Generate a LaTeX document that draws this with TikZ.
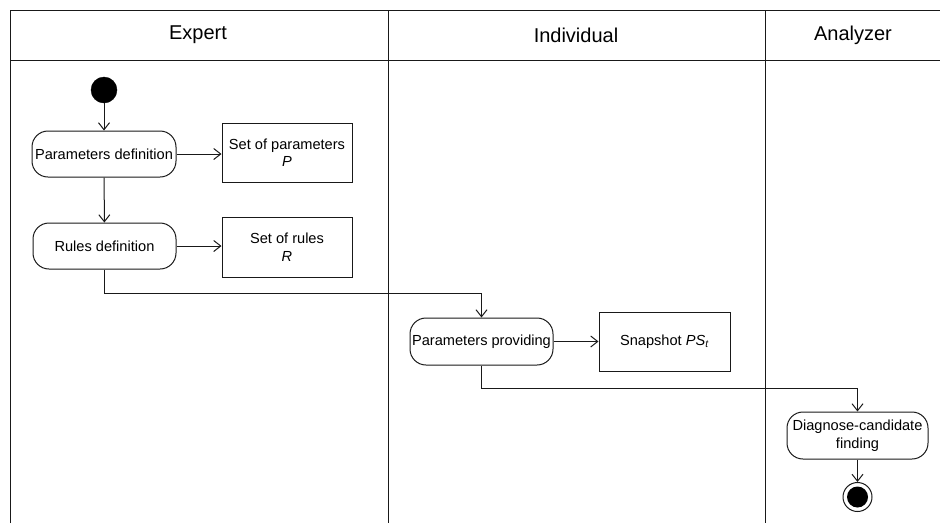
\documentclass[tikz,border=0pt]{standalone}
\usepackage{fontspec}
\setmainfont{Liberation Sans}
\usetikzlibrary{arrows.meta}

\tikzset{
  lane/.style={draw=black!90, line width=1pt},
  lanetitle/.style={font=\fontsize{20}{24}\selectfont},
  action/.style={draw=black!90, line width=1pt, rounded corners=16pt,
    inner sep=0pt, align=center, font=\fontsize{14.6}{17.5}\selectfont},
  artifact/.style={draw=black!90, line width=1pt, inner sep=0pt,
    align=center, font=\fontsize{14.6}{17.5}\selectfont},
  flow/.style={draw=black!90, line width=1pt,
    -{Straight Barb[length=7pt,width=11pt,line width=1pt]}},
  initial/.style={circle, fill=black, draw=black, minimum size=26pt, inner sep=0pt},
  final/.style={circle, draw=black!90, line width=1pt, minimum size=29pt, inner sep=0pt,
    path picture={\fill[black] (path picture bounding box.center) circle (10.5pt);}},
}

\begin{document}
\begin{tikzpicture}[x=1pt, y=-1pt]
  \useasboundingbox (0,0) rectangle (940,523);

  % swimlane frame
  \draw[lane] (10,523) -- (10,10) -- (942,10);
  \draw[lane] (10,60) -- (942,60);
  \draw[lane] (388,10) -- (388,523);
  \draw[lane] (765,10) -- (765,523);

  \node[lanetitle] (tExpert) at (198,35) {Expert};
  \node[lanetitle] (tIndiv) at (576,35) {Individual};
  \node[lanetitle] (tAnal) at (853,35) {Analyzer};

  % Expert lane
  \node[initial] (start) at (104,90) {};
  \node[action, minimum width=144pt, minimum height=46pt] (pdef) at (104,154) {Parameters definition};
  \node[artifact, minimum width=130pt, minimum height=59pt] (sop) at (287,152.5) {Set of parameters\\\textit{P}};
  \node[action, minimum width=143pt, minimum height=46pt] (rdef) at (104.5,246) {Rules definition};
  \node[artifact, minimum width=130pt, minimum height=60pt] (sor) at (287,247) {Set of rules\\\textit{R}};

  % Individual lane
  \node[action, minimum width=143pt, minimum height=47pt] (pprov) at (481.5,341.5) {Parameters providing};
  \node[artifact, minimum width=131pt, minimum height=59pt] (snap) at (664.5,341.5) {Snapshot \textit{PS}\textsubscript{\textit{t}}};

  % Analyzer lane
  \node[action, minimum width=141pt, minimum height=47pt] (diag) at (857.5,435.5) {Diagnose-candidate\\finding};
  \node[final] (end) at (857.5,497) {};

  % control and object flows
  \draw[flow] (start) -- (pdef);
  \draw[flow] (pdef) -- (sop.west |- pdef.east);
  \draw[flow] (pdef) -- (rdef);
  \draw[flow] (rdef) -- (sor.west |- rdef.east);
  \draw[flow] (rdef.south) -- ++(0,24) -| (pprov.north);
  \draw[flow] (pprov) -- (snap);
  \draw[flow] (pprov.south) -- ++(0,23) -| (diag.north);
  \draw[flow] (diag) -- (end);
\end{tikzpicture}
\end{document}
